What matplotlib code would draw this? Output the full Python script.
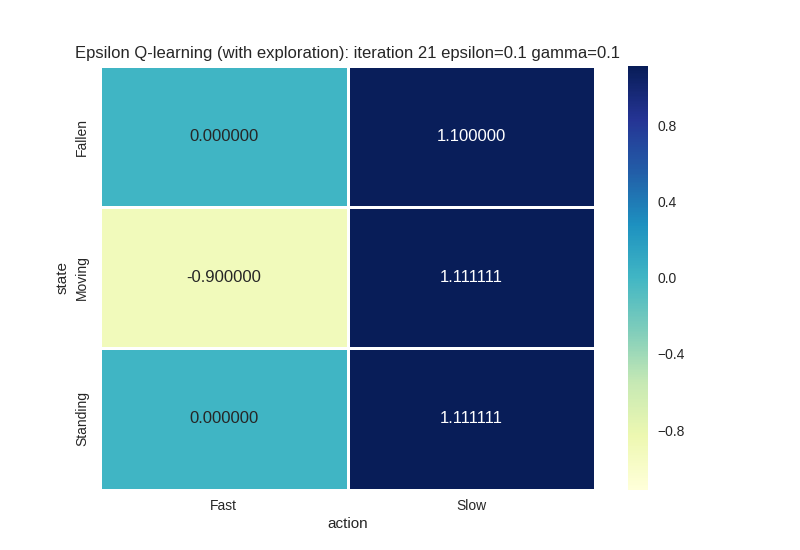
import numpy as np
import pandas as pd
import matplotlib
matplotlib.use("Agg")
import matplotlib.pyplot as plt
import seaborn as sns

states = ["Fallen", "Moving", "Standing"]
actions = ["Fast", "Slow"]
q_fast = [0.0, -0.9, 0.0]
q_slow = [1.1, 1.111111, 1.111111]

sns.set_style("white")
plt.rcParams['font.family'] = ['Liberation Sans', 'DejaVu Sans']

df = pd.DataFrame({"Fast": q_fast, "Slow": q_slow}, index=states)
df.index.name = "state"
df.columns.name = "action"

fig = plt.figure(figsize=(8, 5.5), dpi=100)
ax = fig.add_axes([0.125, 0.11, 0.619, 0.77])
cax = fig.add_axes([0.785, 0.11, 0.025, 0.77])
sns.heatmap(df, annot=True, fmt="f", cmap="YlGnBu", linewidths=0.8,
            vmin=-1.111111, vmax=1.111111, ax=ax, cbar_ax=cax,
            annot_kws={"size": 12})
# old seaborn coloured labels: white only on the dark cells
for t in ax.texts:
    v = float(t.get_text())
    t.set_color("white" if v > 0.5 else "#262626")
cax.set_yticks([-0.8, -0.4, 0.0, 0.4, 0.8])
cax.tick_params(labelsize=10, length=0, pad=7)
ax.tick_params(axis="x", labelsize=10, length=0, pad=7)
ax.tick_params(axis="y", labelsize=10, length=0, pad=8)
ax.set_xlabel("action", fontsize=11, labelpad=3)
ax.set_ylabel("state", fontsize=11, labelpad=4)
ax.set_title("Epsilon Q-learning (with exploration): iteration 21 epsilon=0.1 gamma=0.1",
             fontsize=12)
fig.savefig("out.png", dpi=100)
